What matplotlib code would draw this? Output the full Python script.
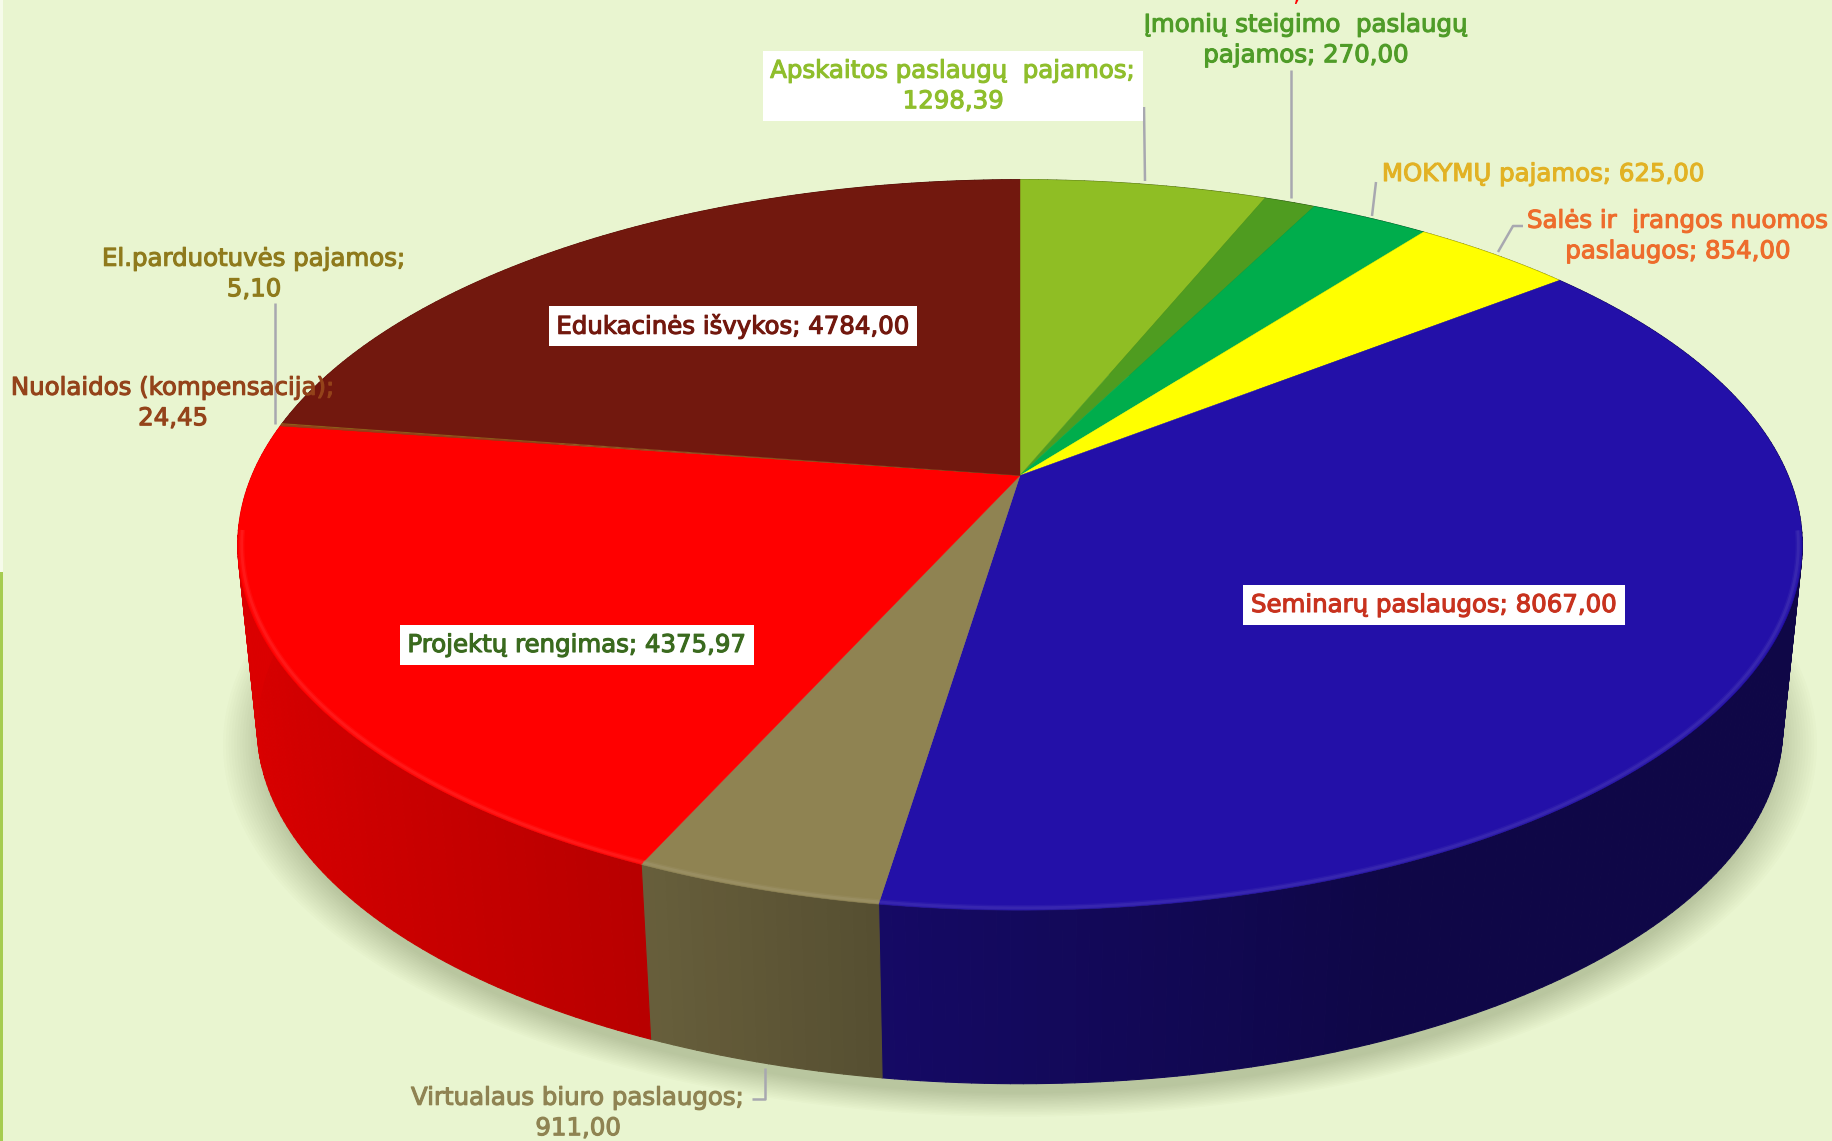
import numpy as np
import matplotlib
matplotlib.use('Agg')
import matplotlib.pyplot as plt
import matplotlib.patheffects as pe
from matplotlib.collections import PolyCollection

# slices, clockwise from 12 o'clock
names = ['Apskaitos paslaugų  pajamos;\n1298,39',
         'Įmonių steigimo  paslaugų\npajamos; 270,00',
         'MOKYMŲ pajamos; 625,00',
         'Salės ir  įrangos nuomos\npaslaugos; 854,00',
         'Seminarų paslaugos; 8067,00',
         'Virtualaus biuro paslaugos;\n911,00',
         'Projektų rengimas; 4375,97',
         'Nuolaidos (kompensacija);\n24,45',
         'El.parduotuvės pajamos;\n5,10',
         'Edukacinės išvykos; 4784,00']
values = [1298.39, 270.00, 625.00, 854.00, 8067.00, 911.00, 4375.97, 24.45, 5.10, 4784.00]
colors = ['#8fbe24', '#4f9c20', '#00ad4c', '#ffff00', '#2310a8',
          '#8f8352', '#ff0000', '#94431a', '#8f7a1c', '#72180e']
text_colors = ['#8fbe2c', '#4f9c28', '#e2b224', '#ee6c2c', '#c8321e',
               '#8f8352', '#3a6a1e', '#94431a', '#8f7a1c', '#72180e']

# label centres in pixels
label_x = [953, 1306, 1543, 1678, 1434, 578, 577, 173, 254, 733]
label_y = [86, 40, 174, 236, 605, 1113, 645, 403, 274, 326]
boxed = [True, False, False, False, True, False, True, False, False, True]

# leader lines
leaders = [[(1144, 107), (1145, 181)],
           [(1291, 70), (1291, 198)],
           [(1376, 182), (1372, 216)],
           [(1523, 226), (1513, 226), (1498, 252)],
           [(752, 1099), (765, 1099), (765, 1068)],
           [(275, 303), (275, 424)]]

W, H = 1832, 1141
BG = '#e9f5d0'

# perspective of the pie
cx, cy = 1020, 475.5
rx, ry = 768, 352
k = 0.19
cy_low = 660
s_low = 0.975


def project(theta, scale, yc):
    u = np.sin(theta)
    v = np.cos(theta)
    w = 1 + k * v
    return cx + scale * rx * u / w, yc - scale * ry * v / w


def shade(color, u):
    f = np.interp(u, [-1, -0.4, -0.15, 0.4, 1], [0.86, 0.72, 0.6, 0.42, 0.42])
    rgb = np.array(matplotlib.colors.to_rgb(color))
    return tuple(rgb * f)


fig = plt.figure(figsize=(W / 100, H / 100), dpi=100, facecolor=BG)
ax = fig.add_axes([0, 0, 1, 1])
ax.set_xlim(0, W)
ax.set_ylim(H, 0)
ax.axis('off')

# left edge of the slide
ax.fill_between([0, 2.5], 0, H, color='#f6fbea', lw=0, zorder=0)
ax.fill_between([0, 3], 572, H, color='#a6cc50', lw=0, zorder=0)

# soft shadow under the pie
t = np.linspace(0, 2 * np.pi, 361)
xs, ys = project(t, s_low, cy_low)
mx, my = cx, cy_low + 14
for d in np.linspace(1.045, 0.99, 16):
    ax.fill(mx + (xs - cx) * d, my + (ys - cy_low) * d, color='#3c4a10', alpha=0.014, lw=0, zorder=1)

total = sum(values)
edges = np.cumsum([0] + values) / total * 2 * np.pi

# side wall
polys, cols = [], []
for i in range(len(values)):
    n = max(2, int((edges[i + 1] - edges[i]) / np.radians(0.8)))
    t = np.linspace(edges[i], edges[i + 1], n + 1)
    x1, y1 = project(t, 1, cy)
    x2, y2 = project(t, s_low, cy_low)
    for j in range(n):
        polys.append([(x1[j], y1[j]), (x1[j + 1], y1[j + 1]), (x2[j + 1], y2[j + 1]), (x2[j], y2[j])])
        cols.append(shade(colors[i], np.sin((t[j] + t[j + 1]) / 2)))
ax.add_collection(PolyCollection(polys, facecolors=cols, edgecolors=cols, linewidths=0.8, zorder=2))

# top face and the light bevel along the rim
for i in range(len(values)):
    n = max(2, int((edges[i + 1] - edges[i]) / np.radians(0.25)))
    t = np.linspace(edges[i], edges[i + 1], n + 1)
    x1, y1 = project(t, 1, cy)
    ax.fill(np.r_[cx, x1], np.r_[cy, y1], color=colors[i], lw=0.3, zorder=3)
    front = np.cos(t) < -0.15
    if front.any():
        rgb = np.array(matplotlib.colors.to_rgb(colors[i]))
        light = tuple(rgb + (1 - rgb) * 0.2)
        xb, yb = project(t[front], 0.995, cy)
        ax.plot(xb, yb, color=light, lw=4, alpha=0.2, zorder=4, solid_capstyle='butt')
        ax.plot(xb, yb, color=light, lw=2, alpha=0.35, zorder=4, solid_capstyle='butt')

for pts in leaders:
    ax.plot(*zip(*pts), color='#a8a8b0', lw=1.8, zorder=5, solid_capstyle='butt')

for i in range(len(names)):
    box = dict(facecolor='white', edgecolor='none', pad=5.5) if boxed[i] else None
    ax.text(label_x[i], label_y[i], names[i], color=text_colors[i], fontsize=17.6,
            family='DejaVu Sans', ha='center', va='center', linespacing=1.34, bbox=box,
            path_effects=[pe.withStroke(linewidth=0.8, foreground=text_colors[i])], zorder=6)

# tail of a label cut off by the top of the slide
ax.text(1296, -6, ';', color='#ff0000', fontsize=17.6, ha='center', va='center', zorder=6)

fig.savefig('out.png', dpi=100, facecolor=BG)
